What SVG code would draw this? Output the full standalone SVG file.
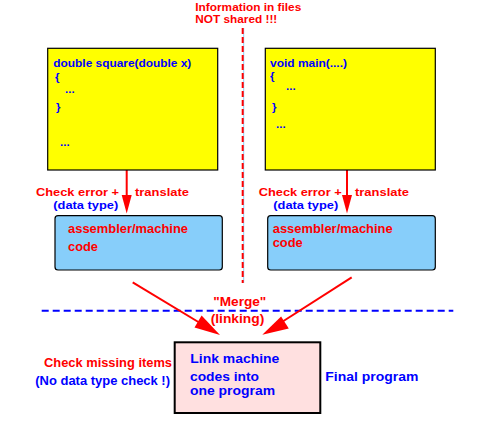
<svg xmlns="http://www.w3.org/2000/svg" width="488" height="423" viewBox="0 0 488 423">
<style>
text{font-family:"Liberation Sans",Arial,sans-serif;font-weight:bold;font-size:12px}
.r{fill:#ff0000}
.b{fill:#0000ff}
.s{font-size:11px}
.code{fill:#0000ff;font-size:11.5px}
.ybox{fill:#ffff00;stroke:#000;stroke-width:1.2}
.bbox{fill:#87cefa;stroke:#000;stroke-width:1.2}
.arrow{stroke:#ff0000;stroke-width:2;fill:none}
.head{fill:#ff0000}
</style>
<rect width="488" height="423" fill="#fff"/>
<g id="note-top">
<text class="r s" x="195.3" y="10.5" textLength="106" lengthAdjust="spacingAndGlyphs">Information in files</text>
<text class="r s" x="195.3" y="22.7" textLength="82" lengthAdjust="spacingAndGlyphs">NOT shared !!!</text>
</g>
<g id="connectors">
<line x1="243.7" y1="28" x2="243.7" y2="283" stroke="#87cefa" stroke-width="1"/>
<line x1="242.7" y1="28" x2="242.7" y2="283" stroke="#ff0000" stroke-width="2" stroke-dasharray="6,3"/>
<line x1="41.7" y1="310.7" x2="453.3" y2="310.7" stroke="#0000ff" stroke-width="2" stroke-dasharray="7,4"/>
<line class="arrow" x1="126.7" y1="170" x2="126.7" y2="200"/>
<polygon class="head" points="121.7,195 131.7,195 126.7,213.5"/>
<line class="arrow" x1="347" y1="170" x2="347" y2="200"/>
<polygon class="head" points="342,195 352,195 347,213.5"/>
<line class="arrow" x1="132.7" y1="282.3" x2="205" y2="326"/>
<polygon class="head" points="220,335 194.5,327.5 201.6,315.4"/>
<line class="arrow" x1="351.7" y1="277.3" x2="278" y2="324.5"/>
<polygon class="head" points="262.3,334.7 281.1,316.6 288.8,328.4"/>
</g>
<g id="src-left">
<rect class="ybox" x="47.7" y="48.3" width="170" height="121.7"/>
<text class="code" x="53.3" y="66.7" textLength="138" lengthAdjust="spacingAndGlyphs">double square(double x)</text>
<text class="code" x="55" y="81">{</text>
<text class="code" x="65" y="92.5">...</text>
<text class="code" x="56" y="111">}</text>
<text class="code" x="60" y="146">...</text>
</g>
<g id="src-right">
<rect class="ybox" x="265.3" y="48.3" width="170" height="121.7"/>
<text class="code" x="270" y="66.7" textLength="77" lengthAdjust="spacingAndGlyphs">void main(....)</text>
<text class="code" x="270" y="80">{</text>
<text class="code" x="286" y="90">...</text>
<text class="code" x="272" y="111">}</text>
<text class="code" x="276" y="127.7">...</text>
</g>
<g id="label-left">
<text class="r s" x="36" y="196" textLength="83" lengthAdjust="spacingAndGlyphs">Check error +</text>
<text class="r s" x="135" y="196" textLength="54" lengthAdjust="spacingAndGlyphs">translate</text>
<text class="b s" x="53.3" y="208.5" textLength="65" lengthAdjust="spacingAndGlyphs">(data type)</text>
</g>
<g id="label-right">
<text class="r s" x="258.7" y="196" textLength="83" lengthAdjust="spacingAndGlyphs">Check error +</text>
<text class="r s" x="355" y="196" textLength="54" lengthAdjust="spacingAndGlyphs">translate</text>
<text class="b s" x="273.3" y="208.5" textLength="65" lengthAdjust="spacingAndGlyphs">(data type)</text>
</g>
<g id="asm-left">
<rect class="bbox" x="55" y="215.7" width="167.3" height="54.3" rx="3"/>
<text class="r" x="68" y="232.7" textLength="120" lengthAdjust="spacingAndGlyphs">assembler/machine</text>
<text class="r" x="68" y="250.7" textLength="30" lengthAdjust="spacingAndGlyphs">code</text>
</g>
<g id="asm-right">
<rect class="bbox" x="267.7" y="215.7" width="167.6" height="54.3" rx="3"/>
<text class="r" x="272.7" y="232.7" textLength="120" lengthAdjust="spacingAndGlyphs">assembler/machine</text>
<text class="r" x="272.7" y="246.7" textLength="30" lengthAdjust="spacingAndGlyphs">code</text>
</g>
<g id="merge-label">
<text class="r" x="213.3" y="305.7" textLength="53" lengthAdjust="spacingAndGlyphs">"Merge"</text>
<text class="r" x="210.7" y="322.7" textLength="53.6" lengthAdjust="spacingAndGlyphs">(linking)</text>
</g>
<g id="linker">
<rect x="174.7" y="342.3" width="145.6" height="70.7" fill="#ffe0e0" stroke="#000" stroke-width="2"/>
<text class="b" x="190.3" y="362.7" textLength="89" lengthAdjust="spacingAndGlyphs">Link machine</text>
<text class="b" x="190" y="380.7" textLength="69" lengthAdjust="spacingAndGlyphs">codes into</text>
<text class="b" x="190" y="395" textLength="85" lengthAdjust="spacingAndGlyphs">one program</text>
</g>
<g id="linker-notes">
<text class="r" x="44" y="367.3" textLength="128" lengthAdjust="spacingAndGlyphs">Check missing items</text>
<text class="b" x="35.3" y="385.3" textLength="134.7" lengthAdjust="spacingAndGlyphs">(No data type check !)</text>
</g>
<g id="final-label">
<text class="b" x="325.3" y="380.7" textLength="93" lengthAdjust="spacingAndGlyphs">Final program</text>
</g>
</svg>
